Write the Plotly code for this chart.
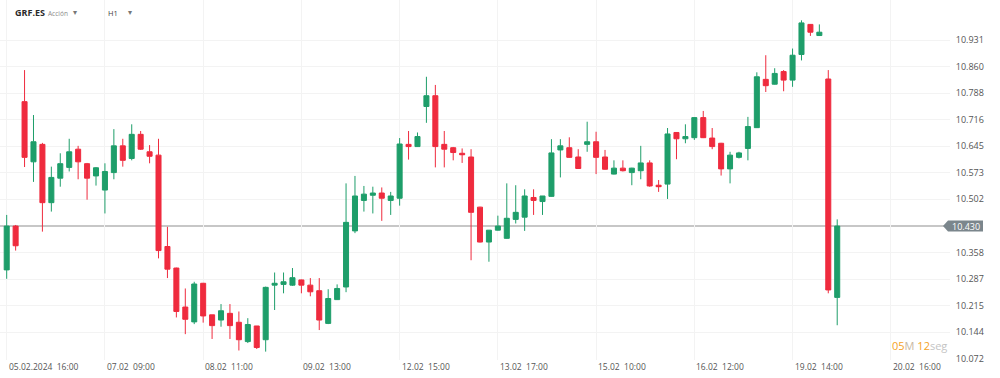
import plotly.graph_objects as go

# ---- data (hourly candles, GRF.ES) ----
open_ = [10.312, 10.430, 10.765, 10.603, 10.650, 10.493, 10.559, 10.588, 10.637, 10.598,
         10.565, 10.527, 10.574, 10.646, 10.612, 10.677, 10.630, 10.621, 10.375, 10.317,
         10.212, 10.172, 10.276, 10.191, 10.177, 10.195, 10.171, 10.119, 10.161, 10.124,
         10.271, 10.273, 10.271, 10.285, 10.271, 10.256, 10.168, 10.232, 10.266, 10.417,
         10.499, 10.513, 10.519, 10.499, 10.505, 10.650, 10.644, 10.752, 10.781, 10.650,
         10.641, 10.626, 10.616, 10.481, 10.387, 10.419, 10.397, 10.448, 10.454, 10.507,
         10.496, 10.510, 10.635, 10.641, 10.616, 10.650, 10.657, 10.616, 10.570, 10.586,
         10.574, 10.579, 10.600, 10.540, 10.543, 10.682, 10.665, 10.668, 10.722, 10.667,
         10.653, 10.584, 10.615, 10.639, 10.695, 10.825, 10.812, 10.846, 10.823, 10.892,
         10.973, 10.943, 10.826, 10.238]
high = [10.460, 10.433, 10.850, 10.729, 10.654, 10.590, 10.626, 10.665, 10.646, 10.600,
        10.589, 10.599, 10.691, 10.665, 10.704, 10.686, 10.648, 10.665, 10.428, 10.318,
        10.262, 10.280, 10.277, 10.191, 10.220, 10.220, 10.200, 10.182, 10.161, 10.267,
        10.305, 10.305, 10.317, 10.286, 10.290, 10.290, 10.260, 10.273, 10.545, 10.565,
        10.538, 10.536, 10.534, 10.522, 10.667, 10.686, 10.682, 10.832, 10.810, 10.686,
        10.643, 10.639, 10.637, 10.482, 10.419, 10.458, 10.545, 10.540, 10.529, 10.529,
        10.511, 10.664, 10.664, 10.669, 10.637, 10.711, 10.684, 10.635, 10.607, 10.607,
        10.587, 10.646, 10.607, 10.554, 10.694, 10.683, 10.704, 10.723, 10.740, 10.694,
        10.654, 10.630, 10.630, 10.724, 10.844, 10.890, 10.855, 10.850, 10.908, 10.984,
        10.974, 10.973, 10.850, 10.448]
low = [10.288, 10.364, 10.589, 10.549, 10.415, 10.469, 10.536, 10.577, 10.556, 10.501,
       10.539, 10.464, 10.556, 10.590, 10.607, 10.635, 10.599, 10.343, 10.290, 10.184,
       10.139, 10.166, 10.170, 10.126, 10.159, 10.126, 10.095, 10.115, 10.099, 10.092,
       10.204, 10.249, 10.269, 10.249, 10.241, 10.150, 10.166, 10.231, 10.252, 10.411,
       10.469, 10.464, 10.444, 10.460, 10.485, 10.609, 10.643, 10.708, 10.588, 10.588,
       10.607, 10.600, 10.338, 10.386, 10.334, 10.418, 10.396, 10.437, 10.417, 10.460,
       10.460, 10.509, 10.561, 10.614, 10.584, 10.630, 10.570, 10.582, 10.569, 10.577,
       10.540, 10.556, 10.536, 10.522, 10.503, 10.610, 10.653, 10.662, 10.667, 10.637,
       10.566, 10.545, 10.612, 10.607, 10.694, 10.791, 10.811, 10.793, 10.805, 10.876,
       10.942, 10.942, 10.249, 10.163]
close = [10.430, 10.377, 10.615, 10.657, 10.493, 10.561, 10.598, 10.630, 10.603, 10.559,
         10.587, 10.577, 10.646, 10.607, 10.677, 10.637, 10.618, 10.364, 10.314, 10.200,
         10.179, 10.274, 10.188, 10.162, 10.202, 10.162, 10.124, 10.165, 10.103, 10.265,
         10.276, 10.280, 10.291, 10.271, 10.253, 10.177, 10.235, 10.262, 10.440, 10.511,
         10.516, 10.519, 10.505, 10.511, 10.651, 10.644, 10.671, 10.781, 10.644, 10.637,
         10.628, 10.622, 10.467, 10.387, 10.419, 10.430, 10.451, 10.467, 10.511, 10.499,
         10.511, 10.627, 10.646, 10.615, 10.585, 10.657, 10.615, 10.583, 10.586, 10.579,
         10.586, 10.600, 10.538, 10.536, 10.678, 10.665, 10.671, 10.722, 10.668, 10.644,
         10.584, 10.621, 10.627, 10.698, 10.832, 10.808, 10.841, 10.823, 10.890, 10.977,
         10.952, 10.952, 10.258, 10.430]

x_tick_idx = [0, 11, 22, 33, 44, 55, 66, 77, 88, 99]
x_tick_text = ["05.02.2024\u00a0\u00a016:00", "07.02\u00a0\u00a009:00", "08.02\u00a0\u00a011:00",
               "09.02\u00a0\u00a013:00", "12.02\u00a0\u00a015:00", "13.02\u00a0\u00a017:00",
               "15.02\u00a0\u00a010:00", "16.02\u00a0\u00a012:00", "19.02\u00a0\u00a014:00",
               "20.02\u00a0\u00a016:00"]
y_tick_vals = [10.931, 10.860, 10.788, 10.716, 10.645, 10.573, 10.502,
               10.358, 10.287, 10.215, 10.144, 10.072]

ticker = "GRF.ES"
asset_type = "Acción"
interval = "H1"
countdown = ("05", "M", "12", "seg")

# ---- styling ----
W, H = 1000, 378
ML, MR, MT, MB = 0, 50, 0, 18
PW, PH = W - ML - MR, H - MT - MB
GREEN = "#1e9e6a"
RED = "#ef2b3e"
FONT = "Open Sans"
YMIN, YMAX = 10.0694, 11.0387
XMIN, XMAX = -0.75, 105.63

x = list(range(len(close)))

fig = go.Figure(go.Candlestick(
    x=x, open=open_, high=high, low=low, close=close,
    increasing=dict(line=dict(color=GREEN, width=1), fillcolor=GREEN),
    decreasing=dict(line=dict(color=RED, width=1), fillcolor=RED),
    whiskerwidth=0, showlegend=False, hoverinfo="skip",
))

last = close[-1]

fig.update_layout(
    width=W, height=H,
    margin=dict(l=ML, r=MR, t=MT, b=MB, autoexpand=False),
    paper_bgcolor="white", plot_bgcolor="white",
    boxgap=0.25, boxgroupgap=0.25,
    font=dict(family=FONT, color="#555555"),
    xaxis=dict(range=[XMIN, XMAX], tickvals=x_tick_idx, showticklabels=False,
               showgrid=True, gridcolor="#f3f3f3", gridwidth=1, zeroline=False,
               rangeslider=dict(visible=False), fixedrange=True),
    yaxis=dict(range=[YMIN, YMAX], side="right", tickvals=y_tick_vals,
               ticktext=[f"{v:.3f}" for v in y_tick_vals],
               showgrid=True, gridcolor="#f3f3f3", gridwidth=1, zeroline=False,
               ticks="outside", ticklen=3, tickcolor="rgba(0,0,0,0)",
               tickfont=dict(size=9, color="#555555", family=FONT)),
)

# current price line
fig.add_shape(type="line", xref="paper", x0=0, x1=1, yref="y", y0=last, y1=last,
              line=dict(color="#b5b5b5", width=1.5), layer="below")
# price tag with arrow
fig.add_shape(type="path", xref="paper", yref="y", xsizemode="pixel", ysizemode="pixel",
              xanchor=1, yanchor=last,
              path="M -7,0 L -2,5.5 L 33,5.5 L 33,-5.5 L -2,-5.5 Z",
              fillcolor="#7b868c", line=dict(width=0), layer="above")
fig.add_annotation(x=1 + 15.5 / PW, xref="paper", y=last, yref="y",
                   text=f"{last:.3f}", showarrow=False, xanchor="center", yanchor="middle",
                   font=dict(size=9, color="white", family=FONT))

# x-axis labels (left aligned at their grid lines)
for idx, txt in zip(x_tick_idx, x_tick_text):
    fig.add_annotation(x=idx, xref="x", y=0, yref="paper", yshift=-6,
                       text=txt, showarrow=False, xanchor="left", yanchor="middle",
                       font=dict(size=8.5, color="#555555", family=FONT))

# header
def px_x(p):
    return p / PW

def px_y(p):
    return 1 - p / PH

fig.add_annotation(x=px_x(13), y=px_y(13), xref="paper", yref="paper",
                   text=f"<b>{ticker}</b>", showarrow=False, xanchor="left", yanchor="middle",
                   font=dict(size=9, color="#2a2a2a", family=FONT))
fig.add_annotation(x=px_x(46), y=px_y(13.5), xref="paper", yref="paper",
                   text=asset_type, showarrow=False, xanchor="left", yanchor="middle",
                   font=dict(size=6.5, color="#8a8a8a", family=FONT))
fig.add_annotation(x=px_x(71), y=px_y(12), xref="paper", yref="paper",
                   text="▾", showarrow=False, xanchor="left", yanchor="middle",
                   font=dict(size=8, color="#777777", family=FONT))
fig.add_annotation(x=px_x(106), y=px_y(13.5), xref="paper", yref="paper",
                   text=interval, showarrow=False, xanchor="left", yanchor="middle",
                   font=dict(size=7.5, color="#444444", family=FONT))
fig.add_annotation(x=px_x(126), y=px_y(12), xref="paper", yref="paper",
                   text="▾", showarrow=False, xanchor="left", yanchor="middle",
                   font=dict(size=8, color="#777777", family=FONT))

# countdown
cd_text = (f"<span style='color:#f5a21e'>{countdown[0]}</span>"
           f"<span style='color:#c8b9a4'>{countdown[1]}</span> "
           f"<span style='color:#f5a21e'>{countdown[2]}</span>"
           f"<span style='color:#c4c4c4'>{countdown[3]}</span>")
fig.add_annotation(x=px_x(949), y=px_y(345), xref="paper", yref="paper",
                   text=cd_text, showarrow=False, xanchor="right", yanchor="middle",
                   font=dict(size=11, family=FONT))

fig.write_html("out.html",
               config={"displayModeBar": False, "staticPlot": True},
               post_script="document.body.style.margin='0';document.body.style.overflow='hidden';")
